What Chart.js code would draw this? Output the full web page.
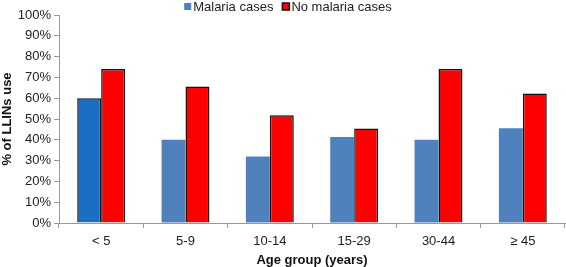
<!DOCTYPE html>
<html><head><meta charset="utf-8">
<script src="https://cdn.jsdelivr.net/npm/chart.js@4/dist/chart.umd.min.js"></script>
<style>html,body{margin:0;padding:0;background:#fff}#w{width:566px;height:267px}</style>
</head><body><div id="w"><canvas id="c"></canvas></div>
<script>
const categories = ["< 5", "5-9", "10-14", "15-29", "30-44", "\u2265 45"];
const malariaCases = [60, 40, 32, 41.3, 40, 45.6];
const noMalariaCases = [74, 65.6, 51.8, 45.4, 74, 62.2];
const yTicks = [0,10,20,30,40,50,60,70,80,90,100];
const seriesNames = ["Malaria cases", "No malaria cases"];

const FONT = "'Liberation Sans', Arial, sans-serif";
Chart.defaults.font.family = FONT;
Chart.defaults.font.size = 13;
Chart.defaults.color = '#222';

const legendSwatches = [
  { fill: '#4f81bd', stroke: null },
  { fill: '#ff0000', stroke: '#111' }
];

// Simple top legend drawn with canvas text (Excel style: small square, tight gap)
const topLegend = {
  id: 'topLegend',
  afterDraw(chart) {
    const ctx = chart.ctx;
    ctx.save();
    ctx.font = '13px ' + FONT;
    ctx.textBaseline = 'middle';
    const box = 7, gapBoxText = 2, gapItems = 9, cy = 6.5;
    const widths = seriesNames.map(t => ctx.measureText(t).width);
    const total = widths.reduce((a, w) => a + box + gapBoxText + w, 0) + gapItems * (seriesNames.length - 1);
    let x = chart.width / 2 + 5 - total / 2;
    seriesNames.forEach((t, i) => {
      const sw = legendSwatches[i];
      ctx.fillStyle = sw.fill;
      ctx.fillRect(x, cy - box / 2, box, box);
      if (sw.stroke) { ctx.strokeStyle = sw.stroke; ctx.lineWidth = 1.5; ctx.strokeRect(x, cy - box / 2, box, box); }
      ctx.fillStyle = '#222';
      ctx.fillText(t, x + box + gapBoxText, cy + 0.5);
      x += box + gapBoxText + widths[i] + gapItems;
    });
    ctx.restore();
  }
};

new Chart(document.getElementById('c'), {
  type: 'bar',
  data: {
    labels: categories,
    datasets: [
      { label: seriesNames[0], data: malariaCases,
        backgroundColor: malariaCases.map((v,i)=> i===0 ? '#1a6fc4' : '#4f81bd'),
        borderColor: '#111', borderWidth: malariaCases.map((v,i)=> i===0 ? 1.5 : 0),
        borderSkipped: 'bottom' },
      { label: seriesNames[1], data: noMalariaCases,
        backgroundColor: '#ff0000', borderColor: '#111', borderWidth: 1.5, borderSkipped: 'bottom' }
    ]
  },
  plugins: [topLegend],
  options: {
    responsive: true, maintainAspectRatio: false, animation: false,
    layout: { padding: { left: 0, right: 1, top: 15, bottom: -1 } },
    datasets: { bar: { barPercentage: 1, categoryPercentage: 0.568 } },
    plugins: {
      tooltip: { enabled: false },
      legend: { display: false }
    },
    scales: {
      x: {
        offset: true,
        grid: { display: true, drawOnChartArea: false, drawTicks: true, tickLength: 5, offset: true, color: '#999' },
        border: { display: true, color: '#999' },
        ticks: { padding: 6, color: '#222', maxRotation: 0 },
        title: { display: true, text: 'Age group (years)', font: { size: 13, weight: 'bold' }, color: '#111', padding: { top: 0, bottom: 0 } },
        afterFit: (s) => { s.height = 45; }
      },
      y: {
        min: 0, max: 100,
        afterBuildTicks: (s) => { s.ticks = yTicks.map(v => ({ value: v })); },
        grid: { display: true, drawOnChartArea: false, drawTicks: true, tickLength: 5, color: '#999' },
        border: { display: true, color: '#999' },
        ticks: { callback: v => v + '%', padding: 3, color: '#222', autoSkip: false },
        title: { display: true, text: '% of LLINs use', font: { size: 13, weight: 'bold' }, color: '#111', padding: { top: 0, bottom: 2 } },
        afterFit: (s) => { s.width = 59; }
      }
    }
  }
});
</script>
</body></html>
